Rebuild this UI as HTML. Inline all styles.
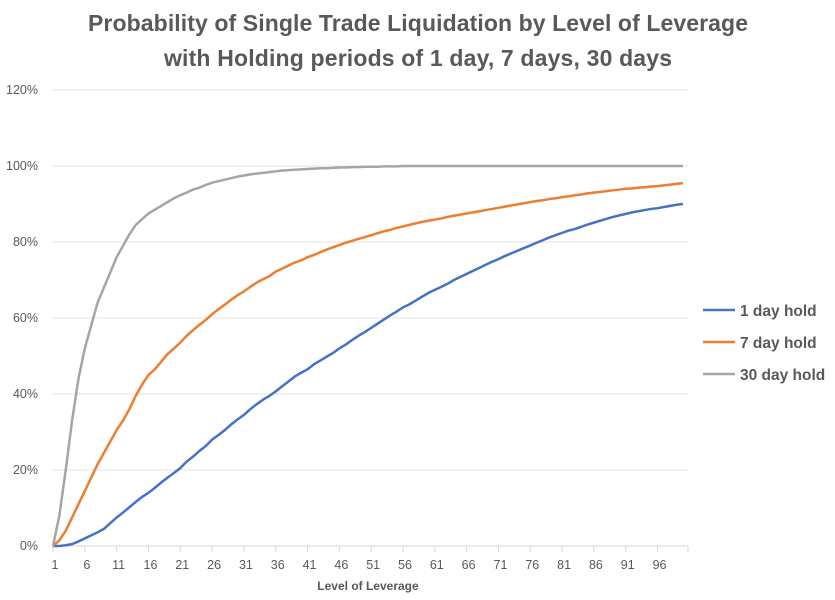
<!DOCTYPE html>
<html><head><meta charset="utf-8"><style>
body{margin:0;background:#fff;}
svg{display:block;font-family:"Liberation Sans",sans-serif;}
</style></head><body>
<svg id="chart" width="835" height="600">
<text x="418" y="31" text-anchor="middle" font-size="23" font-weight="bold" fill="#595959" textLength="660">Probability of Single Trade Liquidation by Level of Leverage</text>
<text x="418" y="66" text-anchor="middle" font-size="23" font-weight="bold" fill="#595959" textLength="508">with Holding periods of 1 day, 7 days, 30 days</text>
<g id="grid"></g><g id="xaxis"></g><g id="series"></g>
<text x="368" y="590" text-anchor="middle" font-size="12" font-weight="bold" fill="#595959">Level of Leverage</text>
<g id="legend"></g>
</svg>
<script>
const yTicks=[0,20,40,60,80,100,120];
const xLabels=[1,6,11,16,21,26,31,36,41,46,51,56,61,66,71,76,81,86,91,96];
const seriesNames=["1 day hold","7 day hold","30 day hold"];
const oneDay=[0,0,0.2,0.5,1.2,2,2.8,3.6,4.5,6,7.5,8.8,10.2,11.6,12.9,14,15.3,16.7,18,19.2,20.5,22.2,23.5,25,26.3,28,29.2,30.5,32,33.3,34.5,36,37.3,38.5,39.5,40.7,42,43.3,44.6,45.6,46.5,47.8,48.8,49.8,50.8,52,53,54.2,55.3,56.3,57.4,58.5,59.6,60.7,61.7,62.8,63.6,64.6,65.6,66.6,67.4,68.2,69,70,70.8,71.6,72.4,73.2,74,74.8,75.5,76.3,77,77.7,78.4,79.1,79.8,80.5,81.2,81.8,82.4,83,83.4,84,84.6,85.1,85.6,86.1,86.6,87,87.4,87.8,88.1,88.4,88.7,88.9,89.2,89.5,89.8,90];
const sevenDay=[0,1.5,4,7.5,11,14.5,18,21.5,24.5,27.5,30.5,33,36,39.5,42.5,45,46.5,48.5,50.5,52,53.5,55.3,56.8,58.2,59.5,61,62.3,63.5,64.8,66,67,68.2,69.3,70.2,71,72.2,73,73.8,74.6,75.2,76,76.6,77.3,78,78.6,79.2,79.8,80.3,80.8,81.3,81.8,82.3,82.8,83.2,83.7,84.1,84.5,84.9,85.3,85.6,85.9,86.2,86.6,86.9,87.2,87.5,87.8,88.1,88.4,88.7,89,89.3,89.6,89.9,90.2,90.5,90.8,91,91.3,91.5,91.8,92,92.3,92.5,92.8,93,93.2,93.4,93.6,93.8,94,94.1,94.3,94.4,94.6,94.7,94.9,95.1,95.3,95.5];
const thirtyDay=[0,8,20,33,44,52,58,64,68,72,76,79,82,84.5,86,87.5,88.5,89.5,90.5,91.5,92.3,93,93.8,94.3,95,95.6,96,96.4,96.8,97.2,97.5,97.8,98,98.2,98.4,98.6,98.8,98.9,99,99.1,99.2,99.3,99.4,99.4,99.5,99.6,99.6,99.7,99.7,99.8,99.8,99.8,99.9,99.9,99.9,100,100,100,100,100,100,100,100,100,100,100,100,100,100,100,100,100,100,100,100,100,100,100,100,100,100,100,100,100,100,100,100,100,100,100,100,100,100,100,100,100,100,100,100,100];
const colors=["#4472C4","#ED7D31","#A5A5A5"];
const NS="http://www.w3.org/2000/svg";
const x0=53,x1=688,y0=546,y1=90;
const xs=i=>x0+(i-1)*(683-x0)/99;
const ys=v=>y0-v/120*(y0-y1);
function mk(t,a,p){const e=document.createElementNS(NS,t);for(const k in a)e.setAttribute(k,a[k]);p.appendChild(e);return e;}
const grid=document.getElementById('grid');
yTicks.forEach(v=>{
 const l=mk('line',{x1:x0,x2:x1,y1:ys(v),y2:ys(v),stroke:v===0?'#D9D9D9':'#E4E4E4','stroke-width':1},grid);
 
 
 const t=mk('text',{x:38,y:ys(v)+4,'text-anchor':'end','font-size':12.5,fill:'#595959'},grid);
 t.textContent=v+'%';
 
 
});
const xa=document.getElementById('xaxis');
for(let i=1;i<=100;i+=5){mk('line',{x1:xs(i),x2:xs(i),y1:y0,y2:y0+6,stroke:'#D9D9D9'},xa);}
mk('line',{x1:x1,x2:x1,y1:y0,y2:y0+6,stroke:'#D9D9D9'},xa);
xLabels.forEach(v=>{
 const t=mk('text',{x:xs(v)+2,y:569,'text-anchor':'middle','font-size':12.5,fill:'#595959'},xa);
 t.textContent=v;
 
 
});
const sg=document.getElementById('series');
[oneDay,sevenDay,thirtyDay].forEach((d,k)=>{
 const p=mk('polyline',{points:d.map((v,i)=>xs(i+1)+','+ys(v)).join(' '),fill:'none',stroke:colors[k],'stroke-width':2.5,'stroke-linejoin':'round'},sg);
 
 
});
const lg=document.getElementById('legend');
seriesNames.forEach((n,k)=>{
 const y=310+k*32;
 const l=mk('line',{x1:703,x2:735,y1:y,y2:y,stroke:colors[k],'stroke-width':2.5},lg);
 
 
 const t=mk('text',{x:740,y:y+6,'font-size':15.5,'font-weight':'bold',fill:'#595959'},lg);
 t.textContent=n;
 
 
});
</script>
</body></html>
